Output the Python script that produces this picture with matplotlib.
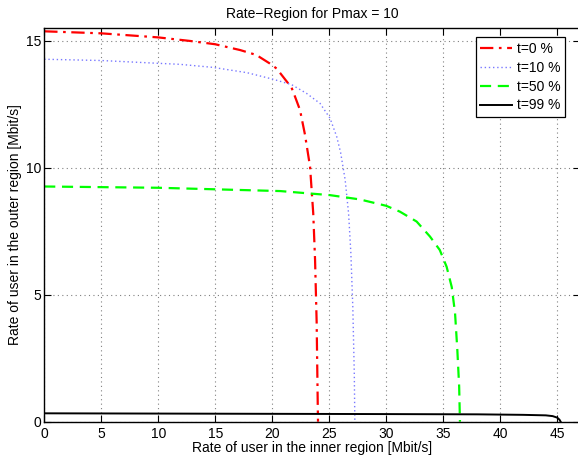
import numpy as np
import matplotlib
matplotlib.use("Agg")
import matplotlib.pyplot as plt

# curves (x = inner rate, y = outer rate, Mbit/s)
x_t0 = [0, 5, 10, 12.8, 15, 17.2, 18.6, 19.8, 20.4, 20.83, 21.7, 22.0, 22.44, 22.88, 23.32, 23.6, 23.76, 23.9, 24.0, 24.02]
y_t0 = [15.37, 15.29, 15.13, 14.99, 14.86, 14.63, 14.44, 14.1, 13.9, 13.65, 13.15, 12.8, 12.27, 11.29, 10.04, 8.2, 6.37, 3.9, 0.5, 0]

x_t10 = [0, 5, 10, 11.9, 14.8, 17.8, 20.1, 21.7, 23.0, 24.2, 25.07, 25.66, 26.0, 26.4, 26.7, 26.9, 27.07, 27.2, 27.25]
y_t10 = [14.27, 14.22, 14.11, 14.07, 13.95, 13.74, 13.48, 13.27, 12.93, 12.53, 11.95, 11.22, 10.6, 9.52, 8.2, 6.64, 4.53, 1.91, 0]

x_t50 = [0, 10, 20.7, 25.07, 27.7, 30, 31.2, 32.67, 33.84, 34.7, 35.3, 35.75, 36.04, 36.24, 36.4, 36.47]
y_t50 = [9.26, 9.21, 9.08, 8.92, 8.75, 8.5, 8.27, 7.88, 7.29, 6.76, 6.1, 5.3, 4.27, 2.82, 1.38, 0]

x_t99 = [0, 10, 20, 30, 38, 42, 44, 44.6, 45.0, 45.2, 45.3]
y_t99 = [0.33, 0.32, 0.31, 0.30, 0.29, 0.27, 0.25, 0.22, 0.16, 0.08, 0]

labels = ["t=0 %", "t=10 %", "t=50 %", "t=99 %"]
xticks = [0, 5, 10, 15, 20, 25, 30, 35, 40, 45]
yticks = [0, 5, 10, 15]

plt.rcParams['font.family'] = ['Liberation Sans', 'DejaVu Sans']
plt.rcParams['font.size'] = 10

fig = plt.figure(figsize=(5.78, 4.57), dpi=100)
ax = fig.add_axes([44.2 / 578, (457 - 421.7) / 457, 535.8 / 578, 393.7 / 457])

ax.plot(x_t0, y_t0, color='red', lw=1.6, dashes=(6, 2.5, 1.2, 2.5), label=labels[0])
ax.plot(x_t10, y_t10, color='#7878ff', lw=1.0, dashes=(1, 2), label=labels[1])
ax.plot(x_t50, y_t50, color='#00ff00', lw=1.6, dashes=(5, 3), label=labels[2])
ax.plot(x_t99, y_t99, color='black', lw=1.4, label=labels[3])

ax.set_xlim(0, 47)
ax.set_ylim(0, 15.5)
ax.set_xticks(xticks)
ax.set_yticks(yticks)
ax.grid(True, color='#808080', linestyle=(0, (1, 3)), lw=0.8)
ax.tick_params(direction='in', length=5, top=True, right=True, colors='black')
ax.tick_params(axis='y', pad=2)
ax.spines['right'].set_visible(False)
for s in ['left', 'bottom', 'top']:
    ax.spines[s].set_linewidth(1.0)

ax.set_title("Rate\u2212Region for Pmax = 10", fontsize=10, pad=7)
ax.set_xlabel("Rate of user in the inner region [Mbit/s]", labelpad=0)
ax.set_ylabel("Rate of user in the outer region [Mbit/s]", labelpad=3)

leg = ax.legend(loc='upper right', bbox_to_anchor=(0.972, 0.977), borderaxespad=0,
                fancybox=False, edgecolor='black', framealpha=1, handlelength=2.3,
                handletextpad=0.3, labelspacing=0.35, borderpad=0.35)
leg.get_frame().set_linewidth(0.9)

fig.savefig("out.png", dpi=100)
